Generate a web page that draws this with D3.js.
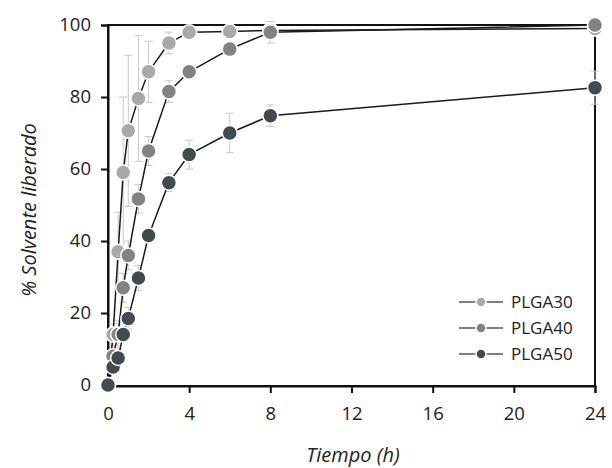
<!DOCTYPE html>
<html>
<head>
<meta charset="utf-8">
<script src="https://cdn.jsdelivr.net/npm/d3@7"></script>
<style>
  html, body { margin: 0; padding: 0; background: #fff; }
  svg { display: block; }
  text { font-family: "Open Sans", "Noto Sans", sans-serif; fill: #222; }
</style>
</head>
<body>
<svg id="chart" width="612" height="468"></svg>
<script>
// Release time points (h)
const times = [0, 0.25, 0.5, 0.75, 1, 1.5, 2, 3, 4, 6, 8, 24];

// Mean % solvent released per formulation
const plga30 = [0, 14, 37, 59, 70.6, 79.6, 87, 95, 98, 98.2, 98.5, 99];
const plga40 = [0, 8, 14, 27, 36, 51.7, 65, 81.5, 87, 93.3, 98, 100];
const plga50 = [0, 5, 7.5, 14, 18.5, 29.7, 41.5, 56.2, 64, 70, 74.8, 82.6];

// Standard deviations
const sd30 = [0, 3, 11, 21, 21, 17.5, 8.5, 3, 1, 1, 1, 1];
const sd40 = [0, 3, 4, 4, 4, 4, 4, 3, 2, 1.5, 3, 0.5];
const sd50 = [0, 2, 2, 2, 3, 3.5, 2, 2.5, 4, 5.5, 3, 4.6];

const seriesNames = ["PLGA30", "PLGA40", "PLGA50"];
const seriesColors = ["#a7a9ac", "#808285", "#414a4f"];

const xTicks = [0, 4, 8, 12, 16, 20, 24];
const yTicks = [0, 20, 40, 60, 80, 100];

const series = [
  { name: seriesNames[0], color: seriesColors[0], values: plga30, sd: sd30 },
  { name: seriesNames[1], color: seriesColors[1], values: plga40, sd: sd40 },
  { name: seriesNames[2], color: seriesColors[2], values: plga50, sd: sd50 }
];

const svg = d3.select("#chart");
const mLeft = 108, mRight = 595, mTop = 25, mBottom = 385;

const x = d3.scaleLinear().domain([0, 24]).range([mLeft, mRight]);
const y = d3.scaleLinear().domain([0, 100]).range([mBottom, mTop]);

// Frame
svg.append("rect")
  .attr("x", mLeft).attr("y", mTop)
  .attr("width", mRight - mLeft).attr("height", mBottom - mTop + 1)
  .attr("fill", "none").attr("stroke", "#111").attr("stroke-width", 2);

// Axes
const xAxis = svg.append("g")
  .attr("transform", `translate(0,${mBottom + 1})`)
  .call(d3.axisBottom(x).tickValues(xTicks).tickSize(7).tickPadding(14).tickFormat(d3.format("d")));
const yAxis = svg.append("g")
  .attr("transform", `translate(${mLeft},0)`)
  .call(d3.axisLeft(y).tickValues(yTicks).tickSize(7).tickPadding(10).tickFormat(d3.format("d")));

[xAxis, yAxis].forEach(g => {
  g.select(".domain").attr("stroke", "#111").attr("stroke-width", 2);
  g.selectAll(".tick line").attr("stroke", "#111").attr("stroke-width", 2);
  g.selectAll(".tick text").style("font-size", "18.5px").attr("fill", "#222");
});

// Error bars
series.forEach(s => {
  const g = svg.append("g");
  times.forEach((t, i) => {
    const sd = s.sd[i];
    if (!sd) return;
    const cx = x(t), y1 = y(s.values[i] + sd), y2 = y(s.values[i] - sd);
    g.append("line").attr("x1", cx).attr("x2", cx).attr("y1", y1).attr("y2", y2)
      .attr("stroke", "#c8c8c8").attr("stroke-width", 1);
    [y1, y2].forEach(yy => g.append("line")
      .attr("x1", cx - 4).attr("x2", cx + 4).attr("y1", yy).attr("y2", yy)
      .attr("stroke", "#c8c8c8").attr("stroke-width", 1));
  });
});

// Lines
const line = d3.line().x((d, i) => x(times[i])).y(d => y(d));
series.forEach(s => {
  svg.append("path").datum(s.values)
    .attr("d", line)
    .attr("fill", "none").attr("stroke", "#1a1a1a").attr("stroke-width", 1.5);
});

// Markers
series.forEach(s => {
  svg.append("g").selectAll("circle").data(s.values).join("circle")
    .attr("cx", (d, i) => x(times[i]))
    .attr("cy", d => y(d))
    .attr("r", 7.5)
    .attr("fill", s.color)
    .attr("stroke", "#fff").attr("stroke-width", 1.5);
});

// Legend
const legend = svg.append("g");
series.forEach((s, i) => {
  const ly = 302 + i * 26;
  legend.append("line").attr("x1", 459).attr("x2", 503).attr("y1", ly).attr("y2", ly)
    .attr("stroke", "#555").attr("stroke-width", 1.6);
  legend.append("circle").attr("cx", 481).attr("cy", ly).attr("r", 5)
    .attr("fill", s.color).attr("stroke", "#fff").attr("stroke-width", 1.5);
  legend.append("text").attr("x", 511).attr("y", ly).attr("dy", "0.35em")
    .style("font-size", "17px").text(s.name);
});

// Axis titles
svg.append("text")
  .attr("x", 353).attr("y", 462)
  .attr("text-anchor", "middle")
  .style("font-size", "20px").style("font-style", "italic").attr("fill", "#333")
  .text("Tiempo (h)");
svg.append("text")
  .attr("transform", `translate(36,210) rotate(-90)`)
  .attr("text-anchor", "middle")
  .style("font-size", "20px").style("font-style", "italic").attr("fill", "#333")
  .text("% Solvente liberado");
</script>
</body>
</html>
